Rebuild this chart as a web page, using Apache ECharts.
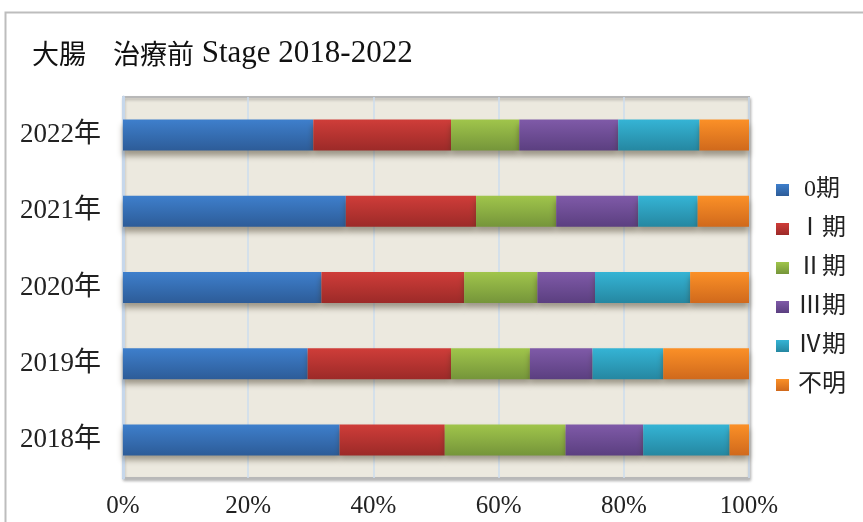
<!DOCTYPE html>
<html><head><meta charset="utf-8">
<script src="https://cdn.jsdelivr.net/npm/echarts@6/dist/echarts.min.js"></script>
<style>html,body{margin:0;padding:0;background:#fff}#c{width:863px;height:522px}</style>
</head><body><div id="c"></div>
<script>
var years = ['2018年', '2019年', '2020年', '2021年', '2022年'];
var stageNames = [' 0期', 'Ⅰ期', 'Ⅱ期', 'Ⅲ期', 'Ⅳ期', '不明'];
var stage0 = [34.6, 29.5, 31.7, 35.6, 30.4];
var stage1 = [16.8, 22.9, 22.8, 20.8, 22.0];
var stage2 = [19.3, 12.6, 11.7, 12.8, 10.9];
var stage3 = [12.4, 10.0, 9.2, 13.1, 15.8];
var stage4 = [13.8, 11.3, 15.2, 9.5, 13.0];
var unknown = [3.1, 13.7, 9.4, 8.2, 7.9];
var xTicks = [0, 20, 40, 60, 80, 100];

var seriesData = [stage0, stage1, stage2, stage3, stage4, unknown];
var colorTop = ['#3e7fcc', '#cf3d39', '#a0c54b', '#7f5aa8', '#35b4d5', '#fb9027'];
var colorBot = ['#2d5c98', '#9c2a28', '#75953a', '#5b3f80', '#2587a1', '#d0691c'];

var chart = echarts.init(document.getElementById('c'), null, {renderer: 'canvas'});
var serif = '"Liberation Serif", "Noto Sans CJK JP", serif';
chart.setOption({
  animation: false,
  backgroundColor: '#fff',
  graphic: [{
    type: 'rect', left: 3, top: 10, shape: {width: 900, height: 560},
    style: {fill: 'none', stroke: '#bdbdbd', lineWidth: 2}, silent: true, z: -10
  }],
  title: {
    left: 27, top: 33,
    text: '{k|大腸　治療前}{l| Stage 2018-2022}',
    textStyle: {
      fontWeight: 'normal',
      rich: {
        k: {fontSize: 27, fontWeight: 'normal', fontFamily: '"Noto Sans CJK JP", serif', color: '#111'},
        l: {fontSize: 31, fontWeight: 'normal', fontFamily: '"Liberation Serif", serif', color: '#111'}
      }
    }
  },
  legend: {
    orient: 'vertical', left: 776, top: 178, padding: 0,
    itemWidth: 13, itemHeight: 12, itemGap: 15,
    icon: 'rect',
    textStyle: {fontSize: 24, fontFamily: serif, color: '#222', lineHeight: 24, padding: [0,0,0,4]},
    data: stageNames
  },
  grid: {
    left: 123, right: 114, top: 97, bottom: 44,
    show: true, backgroundColor: '#ece9df', borderColor: '#b8b8b8', borderWidth: 2,
    shadowColor: 'rgba(0,0,0,0.25)', shadowBlur: 3, shadowOffsetX: 1, shadowOffsetY: 2
  },
  xAxis: {
    type: 'value', min: xTicks[0], max: xTicks[xTicks.length - 1], interval: 20,
    axisLine: {show: false}, axisTick: {show: false},
    splitLine: {show: true, lineStyle: {color: '#cddcee', width: 1.5}},
    axisLabel: {formatter: '{value}%', fontSize: 25, fontFamily: serif, color: '#222', margin: 16}
  },
  yAxis: {
    type: 'category', data: years,
    axisLine: {show: true, lineStyle: {color: '#c6d7eb', width: 3}},
    axisTick: {show: false},
    axisLabel: {fontSize: 27, fontFamily: serif, color: '#222', margin: 22}
  },
  series: seriesData.map(function (d, i) {
    return {
      name: stageNames[i], type: 'bar', stack: 'total', data: d, barWidth: 31,
      itemStyle: {
        color: new echarts.graphic.LinearGradient(0, 0, 0, 1, [
          {offset: 0, color: colorTop[i]}, {offset: 1, color: colorBot[i]}
        ]),
        shadowColor: 'rgba(60,50,30,0.45)', shadowBlur: 6, shadowOffsetY: 5
      }
    };
  }),
  color: colorTop
});
</script></body></html>
